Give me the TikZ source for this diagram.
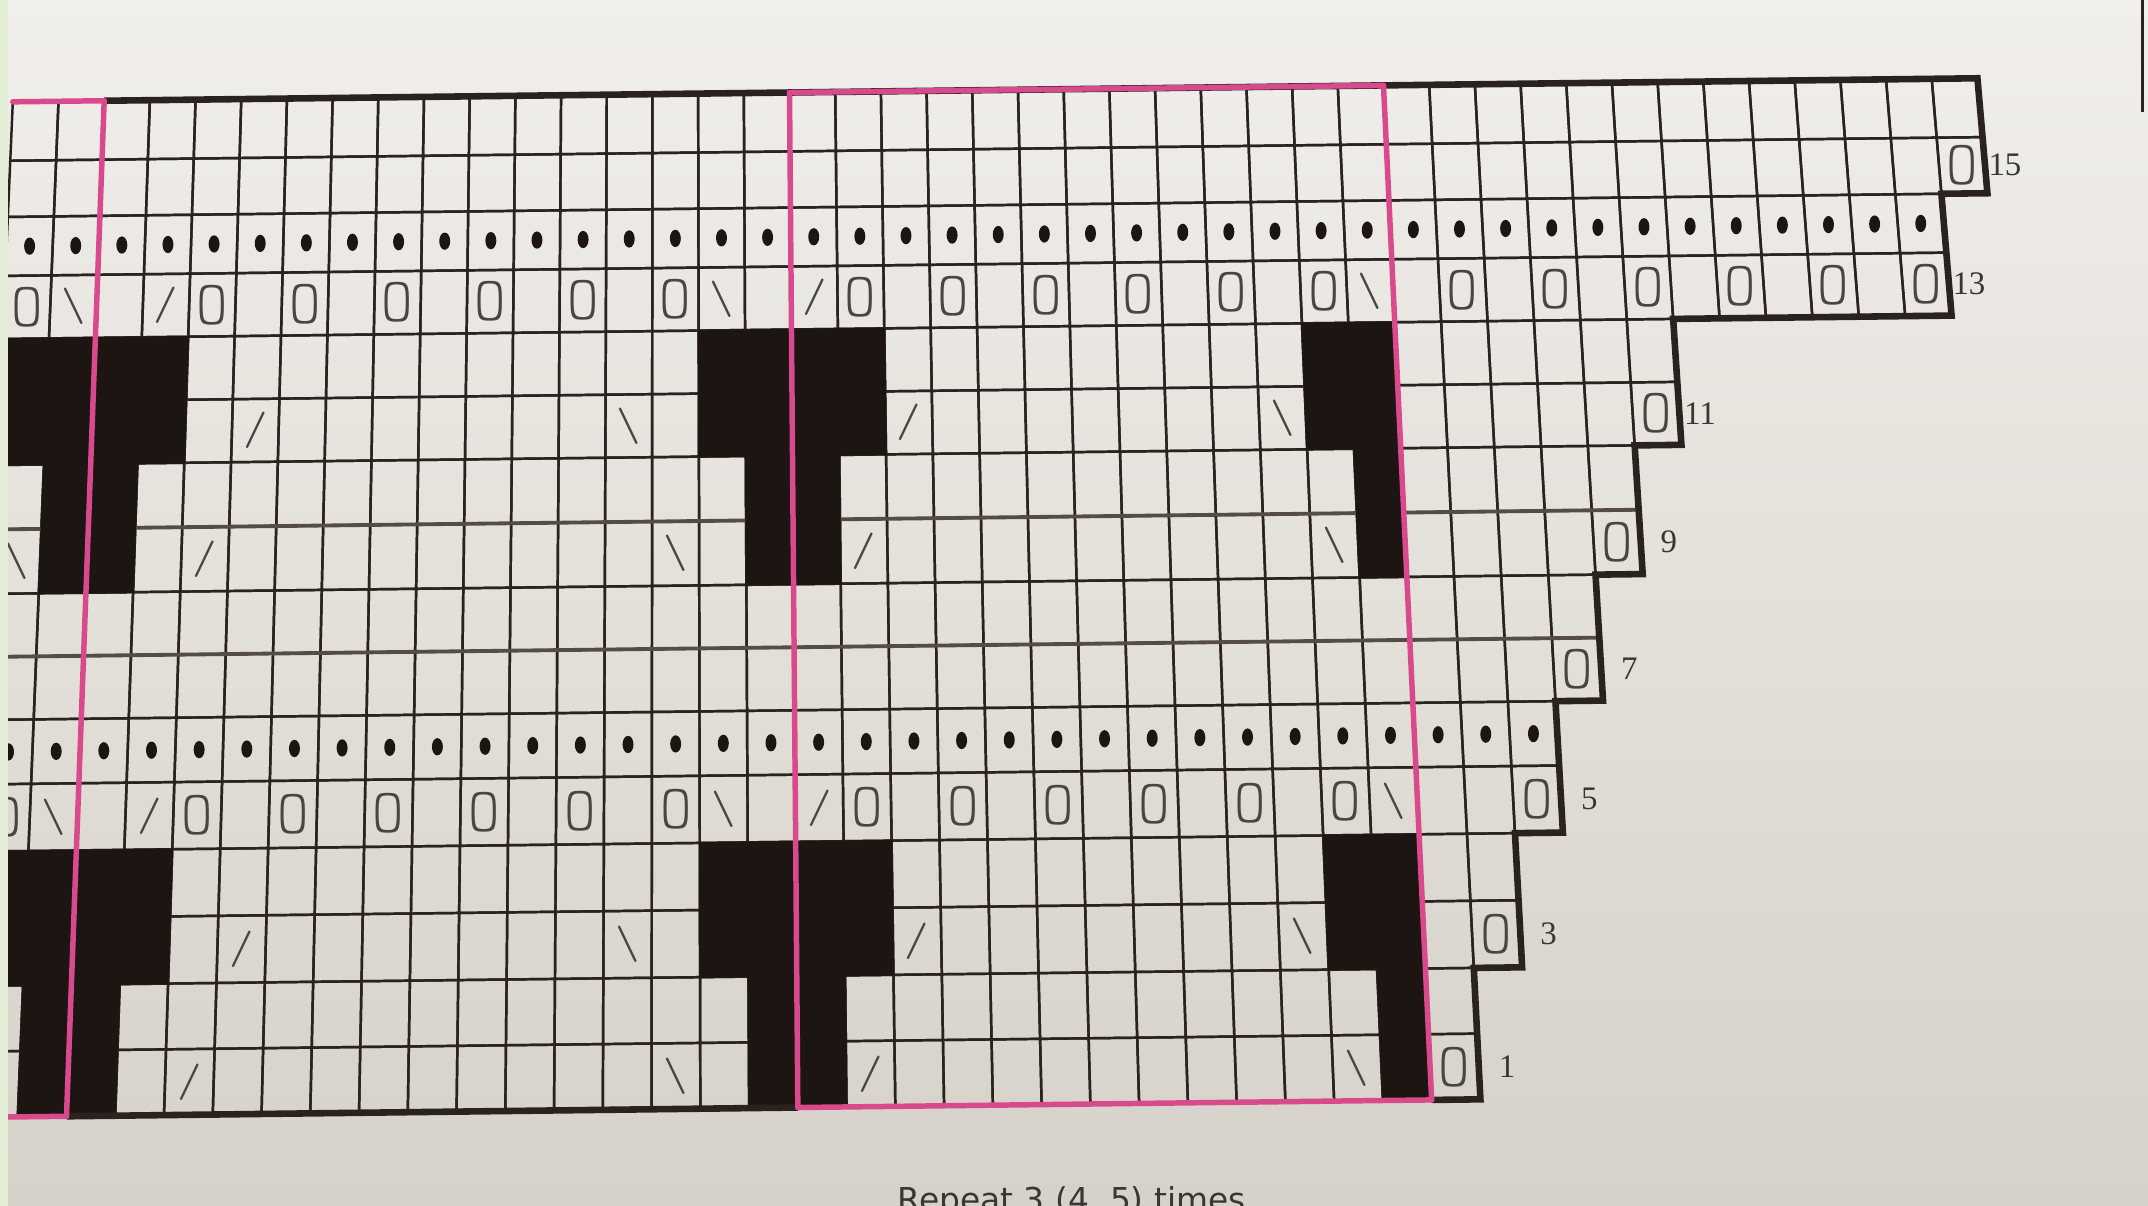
\documentclass[tikz,border=0pt]{standalone}
\usepackage{fontspec}
\usetikzlibrary{calc}
\newfontfamily\symfont{lmmonolt10-regular.otf}
\newfontfamily\labfont{Liberation Serif}
\newfontfamily\repfont{DejaVu Sans}
\definecolor{paperTop}{HTML}{F1EFEB}
\definecolor{paperBot}{HTML}{D6D1C9}
\definecolor{gridc}{HTML}{2A221E}
\definecolor{blockc}{HTML}{1D1512}
\definecolor{pinkc}{HTML}{D94A8C}
\definecolor{symc}{HTML}{4A4541}
\definecolor{labc}{HTML}{3A3633}
\definecolor{greenstrip}{HTML}{E4EDD6}
\definecolor{grayline}{HTML}{554C46}
\newcommand\mappt[2]{%
  \pgfmathsetmacro\Xo{594+0.0097*(#2-175)+(#1-17.5)*(33.66+0.003024*(#2-175))}%
  \pgfmathsetmacro\Yo{#2-0.012*(\Xo-120)}}
\tikzset{
  gridln/.style={draw=gridc, line width=0.9pt},
  outln/.style={draw=gridc, line width=2.4pt, line join=miter},
  pinkln/.style={draw=pinkc, line width=2.0pt, line cap=round},
  grayln/.style={draw=grayline, line width=1.4pt},
  blk/.style={fill=blockc, draw=blockc, line width=0.5pt},
  yo/.style={font=\symfont\fontsize{23}{23}\selectfont, text=symc, inner sep=0pt},
  slsh/.style={font=\symfont\fontsize{17}{17}\selectfont, text=symc, inner sep=0pt},
  purl/.style={fill=blockc},
  rowlab/.style={font=\labfont\fontsize{12}{12}\selectfont, text=labc, inner sep=0pt, anchor=east},
  reptext/.style={font=\repfont\fontsize{12}{12}\selectfont, text=labc, inner sep=0pt, anchor=base west}
}
\begin{document}
\begin{tikzpicture}[x=0.5pt,y=-0.5pt]
\useasboundingbox (0,0) rectangle (1568,880);
\begin{scope}
\clip (0,0) rectangle (1568,880);
\shade[top color=paperTop, bottom color=paperBot] (0,0) rectangle (1568,880);
% grid points
\foreach \vv in {0,...,16} {
  \pgfmathsetmacro\Yv{{814,766,718,669,620,571,524,478,432,385,338,292,246,200,157,116,73}[\vv]}
  \foreach \uu in {0,...,43} {
    \mappt{\uu}{\Yv}
    \coordinate (p-\uu-\vv) at (\Xo,\Yo);
  }
}
% cells
\foreach \rr in {1,...,16} {
  \pgfmathtruncatemacro\rb{\rr-1}
  \pgfmathtruncatemacro\km{{30,30,31,31,32,32,33,33,34,34,35,35,41,41,42,42}[\rb]}
  \foreach \kx in {0,...,\km} {
    \pgfmathtruncatemacro\kk{\kx+1}
    \draw[gridln] (p-\kx-\rb) -- (p-\kk-\rb) -- (p-\kk-\rr) -- (p-\kx-\rr) -- cycle;
    \coordinate (c-\kx-\rr) at ($(p-\kx-\rb)!0.5!(p-\kk-\rr)$);
  }
}
\draw[grayln] (p-0-7) -- (p-34-7);
\draw[grayln] (p-0-9) -- (p-35-9);
% black blocks
\foreach \vb in {0,8} {
  \pgfmathtruncatemacro\vC{\vb+2}
  \pgfmathtruncatemacro\vE{\vb+4}
  \fill[blk] (p-0-\vE) -- (p-4-\vE) -- (p-4-\vC) -- (p-3-\vC) -- (p-3-\vb) -- (p-1-\vb) -- (p-1-\vC) -- (p-0-\vC) -- cycle;
  \fill[blk] (p-15-\vE) -- (p-19-\vE) -- (p-19-\vC) -- (p-18-\vC) -- (p-18-\vb) -- (p-16-\vb) -- (p-16-\vC) -- (p-15-\vC) -- cycle;
  \fill[blk] (p-28-\vE) -- (p-30-\vE) -- (p-30-\vb) -- (p-29-\vb) -- (p-29-\vC) -- (p-28-\vC) -- cycle;
}
% symbols
\foreach \rr in {5,13} {
  \foreach \kx in {0,4,6,8,10,12,14,18,20,22,24,26,28} {\node[yo] at (c-\kx-\rr) {\scalebox{0.95}[1]{O}};}
  \foreach \kx in {1,15,29} {\node[slsh] at (c-\kx-\rr) {\textbackslash};}
  \foreach \kx in {3,17} {\node[slsh] at (c-\kx-\rr) {/};}
}
\foreach \kx/\rr in {31/13,33/13,35/13,37/13,39/13,41/13,32/5,42/15,35/11,34/9,33/7,31/3,30/1} {\node[yo] at (c-\kx-\rr) {\scalebox{0.95}[1]{O}};}
\foreach \kx/\rr in {5/11,19/11,4/9,18/9,5/3,19/3,4/1,18/1} {\node[slsh] at (c-\kx-\rr) {/};}
\foreach \kx/\rr in {13/11,27/11,0/9,14/9,28/9,13/3,27/3,0/1,14/1,28/1} {\node[slsh] at (c-\kx-\rr) {\textbackslash};}
\foreach \kx in {0,...,41} {\fill[purl] (c-\kx-14) ellipse [x radius=4, y radius=6.3];}
\foreach \kx in {0,...,32} {\fill[purl] (c-\kx-6) ellipse [x radius=4, y radius=6.3];}
% outline
\draw[outln] (p-2-0) -- (p-17-0);
\draw[outln] (p-30-0) -- (p-31-0) -- (p-31-2) -- (p-32-2) -- (p-32-4) -- (p-33-4) -- (p-33-6) -- (p-34-6) -- (p-34-8) -- (p-35-8) -- (p-35-10) -- (p-36-10) -- (p-36-12) -- (p-42-12) -- (p-42-14) -- (p-43-14) -- (p-43-16) -- (p-2-16);
% pink highlighter
\draw[pinkln] (p-0-16) -- (p-2-16);
\draw[pinkln] (p-17-16) -- (p-30-16);
\draw[pinkln] (p-0-0) -- (p-2-0);
\draw[pinkln] (p-17-0) -- (p-30-0);
\draw[pinkln] (p-2-0) -- (p-2-16);
\draw[pinkln] (p-17-0) -- (p-17-16);
\draw[pinkln] (p-30-0) -- (p-30-16);
% row labels
\foreach \rr/\ee in {1/31,3/32,5/33,7/34,9/35,11/36,13/42,15/43} {
  \pgfmathtruncatemacro\rb{\rr-1}
  \node[rowlab] (lab\rr) at ($(p-\ee-\rb)!0.5!(p-\ee-\rr)+(27,0)$) {\rr};
}
\node[reptext] (rep) at (655,884) {Repeat 3 (4, 5) times};
\fill[greenstrip] (0,0) rectangle (5.5,880);
\draw[gridc, line width=1.2pt] (1564,0) -- (1564,82);
\end{scope}
\end{tikzpicture}
\end{document}
